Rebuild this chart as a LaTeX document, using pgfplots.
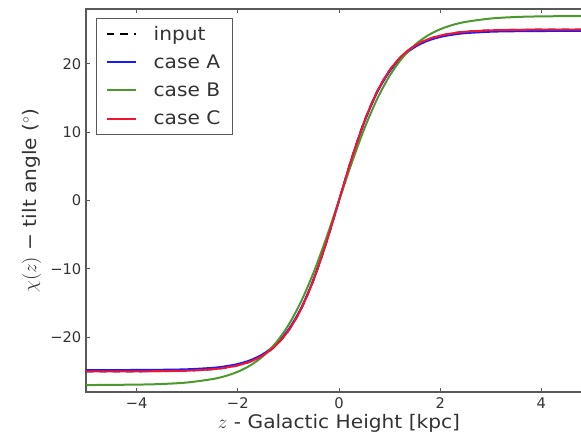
\documentclass[border=0pt]{standalone}
\usepackage{fontspec}
\setmainfont{DejaVu Sans}
\newfontfamily\widefont{DejaVu Sans}[FakeStretch=1.08]
\usepackage{pgfplots}
\pgfplotsset{compat=1.18}
\definecolor{cA}{rgb}{0.1,0.1,1}
\definecolor{cB}{rgb}{0.30,0.60,0.18}
\definecolor{cC}{rgb}{0.95,0.08,0.20}
\definecolor{txt}{rgb}{0.2,0.2,0.2}
\begin{document}
\begin{tikzpicture}
\begin{axis}[
  scale only axis,
  width=379.5pt, height=287.25pt,
  xmin=-5, xmax=5, ymin=-28, ymax=28,
  xtick={-4,-2,0,2,4},
  xticklabels={−4,−2,0,2,4},
  ytick={-20,-10,0,10,20},
  yticklabels={−20,−10,0,10,20},
  tick align=inside,
  major tick length=3pt,
  axis line style={black!65, line width=0.8pt},
  every tick/.style={black!65, line width=0.7pt},
  tick label style={font=\fontsize{11}{13}\selectfont, text=txt},
  xticklabel style={yshift=-1pt},
  label style={font=\widefont\fontsize{14}{16}\selectfont, text=txt},
  xlabel={$z$ - Galactic Height [kpc]},
  ylabel={$\chi(z)$ − tilt angle ($^\circ$)},
  xlabel style={yshift=3pt},
  legend style={at={(rel axis cs:0.02,0.977)}, anchor=north west,
    draw=black!65, line width=0.8pt, fill=white,
    font=\widefont\fontsize{14}{16}\selectfont, text=txt,
    inner xsep=7pt, inner ysep=3.8pt, row sep=5.3pt},
  legend cell align=left,
  legend image code/.code={\draw[#1, line width=1.5pt] (0pt,0pt) -- (22pt,0pt); \path[draw=none] (0pt,0pt) -- (33pt,0pt);},
]
\addplot[black, dash pattern=on 5.5pt off 4.5pt, line width=1.4pt, smooth] coordinates {
(-5,-25.00) (-4,-24.98) (-3.5,-24.95) (-3,-24.88) (-2.5,-24.67) (-2.25,-24.45) (-2,-24.10) (-1.75,-23.54) (-1.5,-22.63) (-1.25,-21.21) (-1,-19.04) (-0.75,-15.88) (-0.5,-11.55) (-0.25,-6.12) (0,0)
(0.25,6.12) (0.5,11.55) (0.75,15.88) (1,19.04) (1.25,21.21) (1.5,22.63) (1.75,23.54) (2,24.10) (2.25,24.45) (2.5,24.67) (3,24.88) (3.5,24.95) (4,24.98) (5,25.00)};
\addlegendentry{input}
\addplot[cA, line width=1.5pt, smooth] coordinates {
(-5,-24.80) (-4,-24.78) (-3.5,-24.75) (-3,-24.68) (-2.5,-24.47) (-2.25,-24.25) (-2,-23.91) (-1.75,-23.35) (-1.5,-22.45) (-1.25,-21.04) (-1,-18.89) (-0.75,-15.75) (-0.5,-11.46) (-0.25,-6.07) (0,0)
(0.25,6.07) (0.5,11.46) (0.75,15.75) (1,18.89) (1.25,21.04) (1.5,22.45) (1.75,23.35) (2,23.91) (2.25,24.25) (2.5,24.47) (3,24.68) (3.5,24.75) (4,24.78) (5,24.80)};
\addlegendentry{case A}
\addplot[cB, line width=1.5pt, smooth] coordinates {
(-5,-26.99) (-4,-26.92) (-3.5,-26.83) (-3,-26.61) (-2.5,-26.11) (-2.25,-25.68) (-2,-25.04) (-1.75,-24.10) (-1.5,-22.75) (-1.25,-20.84) (-1,-18.23) (-0.75,-14.78) (-0.5,-10.49) (-0.25,-5.46) (0,0)
(0.25,5.46) (0.5,10.49) (0.75,14.78) (1,18.23) (1.25,20.84) (1.5,22.75) (1.75,24.10) (2,25.04) (2.25,25.68) (2.5,26.11) (3,26.61) (3.5,26.83) (4,26.92) (5,26.99)};
\addlegendentry{case B}
\addplot[cC, line width=1.5pt, smooth] coordinates {
(-5,-25.00) (-4,-24.98) (-3.5,-24.95) (-3,-24.88) (-2.5,-24.67) (-2.25,-24.45) (-2,-24.10) (-1.75,-23.54) (-1.5,-22.63) (-1.25,-21.21) (-1,-19.04) (-0.75,-15.88) (-0.5,-11.55) (-0.25,-6.12) (0,0)
(0.25,6.12) (0.5,11.55) (0.75,15.88) (1,19.04) (1.25,21.21) (1.5,22.63) (1.75,23.54) (2,24.10) (2.25,24.45) (2.5,24.67) (3,24.88) (3.5,24.95) (4,24.98) (5,25.00)};
\addlegendentry{case C}
\end{axis}
\pgfresetboundingbox
\path[use as bounding box] (-64.5pt,-34.5pt) rectangle (371.25pt,294pt);
\end{tikzpicture}
\end{document}
